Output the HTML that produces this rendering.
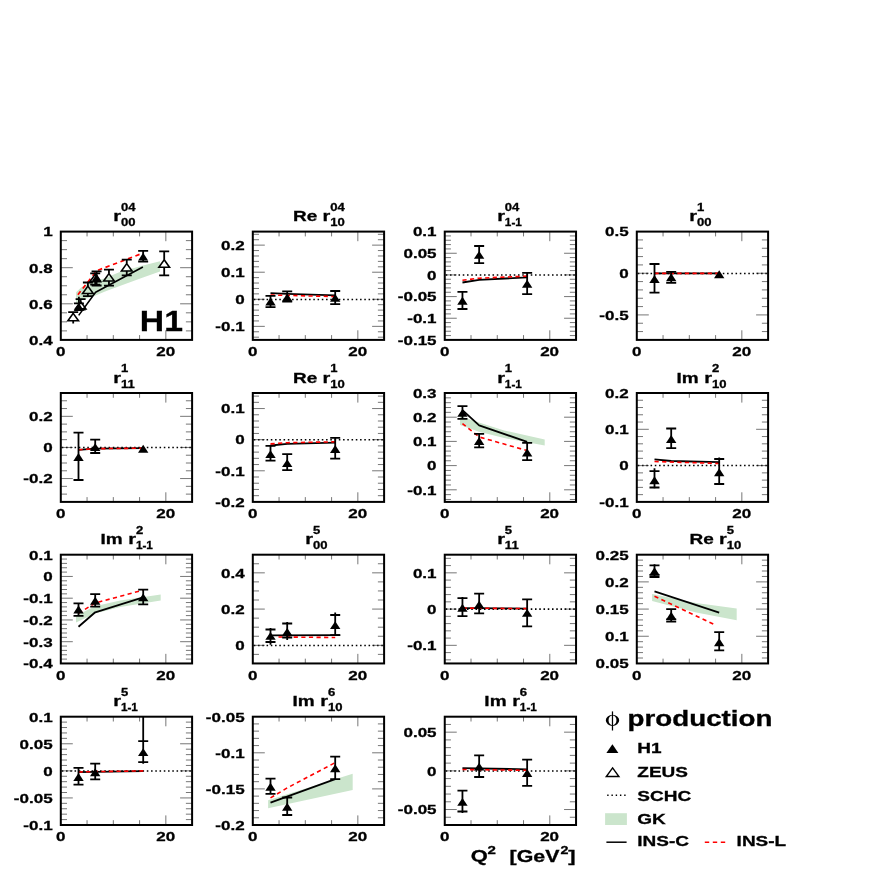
<!DOCTYPE html>
<html><head><meta charset="utf-8"><title>phi production</title>
<style>html,body{margin:0;padding:0;background:#fff}svg{display:block}text{font-family:"Liberation Sans",sans-serif;fill:#000;stroke:#000;stroke-width:0.3px}#w{will-change:transform;width:872px;height:872px}</style></head>
<body>
<div id="w">
<svg width="872" height="872" viewBox="0 0 872 872">
<g id="p0">
<clipPath id="c0"><rect x="60.8" y="231.6" width="131.3" height="108.3"/></clipPath>
<g clip-path="url(#c0)">
<path d="M76.1,292.3 L82,286.8 L90,282.6 L96,280.6 L103.6,278.7 L119.8,272 L143,265.6 L160,261.3 L160,271.6 L143,277.6 L119.8,286 L105,291.6 L95.6,295.6 L90,297.2 L82,300 L76.1,303.4 Z" fill="#cbe5cc"/>
<path d="M78.7,315.4 L95.6,292.3 L142.9,267" stroke="#000" stroke-width="1.6" fill="none" stroke-linejoin="round"/>
<path d="M77.9,294.8 L96.5,270.8 L143.2,253" stroke="#ff0000" stroke-width="1.7" fill="none" stroke-dasharray="4.4 3.6" stroke-linejoin="round"/>
<path d="M73.2,312.2 V313.4" stroke="#000" stroke-width="1.8" fill="none"/>
<path d="M68.2,312.2 H78.2" stroke="#000" stroke-width="1.8" fill="none"/>
<path d="M73.2,320.8 V323.4" stroke="#000" stroke-width="1.8" fill="none"/>
<path d="M73.2,313.4 L78.5,320.8 L67.9,320.8 Z" fill="none" stroke="#000" stroke-width="1.6" stroke-linejoin="miter"/>
<path d="M80.6,299.2 V301.5" stroke="#000" stroke-width="1.8" fill="none"/>
<path d="M75.6,299.2 H85.6" stroke="#000" stroke-width="1.8" fill="none"/>
<path d="M80.6,308.9 V309.6" stroke="#000" stroke-width="1.8" fill="none"/>
<path d="M75.6,309.6 H85.6" stroke="#000" stroke-width="1.8" fill="none"/>
<path d="M80.6,301.5 L85.9,308.9 L75.3,308.9 Z" fill="none" stroke="#000" stroke-width="1.6" stroke-linejoin="miter"/>
<path d="M87.9,282.5 V286.1" stroke="#000" stroke-width="1.8" fill="none"/>
<path d="M82.9,282.5 H92.9" stroke="#000" stroke-width="1.8" fill="none"/>
<path d="M87.9,293.5 V296.1" stroke="#000" stroke-width="1.8" fill="none"/>
<path d="M82.9,296.1 H92.9" stroke="#000" stroke-width="1.8" fill="none"/>
<path d="M87.9,286.1 L93.2,293.5 L82.6,293.5 Z" fill="none" stroke="#000" stroke-width="1.6" stroke-linejoin="miter"/>
<path d="M95.2,273.3 V274.3" stroke="#000" stroke-width="1.8" fill="none"/>
<path d="M90.2,273.3 H100.2" stroke="#000" stroke-width="1.8" fill="none"/>
<path d="M95.2,281.7 V284.6" stroke="#000" stroke-width="1.8" fill="none"/>
<path d="M90.2,284.6 H100.2" stroke="#000" stroke-width="1.8" fill="none"/>
<path d="M95.2,274.3 L100.5,281.7 L89.9,281.7 Z" fill="none" stroke="#000" stroke-width="1.6" stroke-linejoin="miter"/>
<path d="M108.95,269.7 V273.6" stroke="#000" stroke-width="1.8" fill="none"/>
<path d="M103.95,269.7 H113.95" stroke="#000" stroke-width="1.8" fill="none"/>
<path d="M108.95,281 V285.65" stroke="#000" stroke-width="1.8" fill="none"/>
<path d="M103.95,285.65 H113.95" stroke="#000" stroke-width="1.8" fill="none"/>
<path d="M108.95,273.6 L114.25,281 L103.65,281 Z" fill="none" stroke="#000" stroke-width="1.6" stroke-linejoin="miter"/>
<path d="M126.75,259.7 V263.6" stroke="#000" stroke-width="1.8" fill="none"/>
<path d="M121.75,259.7 H131.75" stroke="#000" stroke-width="1.8" fill="none"/>
<path d="M126.75,271 V275.45" stroke="#000" stroke-width="1.8" fill="none"/>
<path d="M121.75,275.45 H131.75" stroke="#000" stroke-width="1.8" fill="none"/>
<path d="M126.75,263.6 L132.05,271 L121.45,271 Z" fill="none" stroke="#000" stroke-width="1.6" stroke-linejoin="miter"/>
<path d="M164.2,251.4 V259.8" stroke="#000" stroke-width="1.8" fill="none"/>
<path d="M159.2,251.4 H169.2" stroke="#000" stroke-width="1.8" fill="none"/>
<path d="M164.2,267.2 V275.45" stroke="#000" stroke-width="1.8" fill="none"/>
<path d="M159.2,275.45 H169.2" stroke="#000" stroke-width="1.8" fill="none"/>
<path d="M164.2,259.8 L169.5,267.2 L158.9,267.2 Z" fill="none" stroke="#000" stroke-width="1.6" stroke-linejoin="miter"/>
<path d="M78.9,296.7 V311" stroke="#000" stroke-width="1.8" fill="none"/>
<path d="M73.9,303.3 H83.9" stroke="#000" stroke-width="1.8" fill="none"/>
<path d="M78.9,303.05 L84.1,310.95 L73.7,310.95 Z" fill="#000"/>
<path d="M96.6,271.3 V285.5" stroke="#000" stroke-width="1.8" fill="none"/>
<path d="M91.6,271.3 H101.6" stroke="#000" stroke-width="1.8" fill="none"/>
<path d="M91.6,285.5 H101.6" stroke="#000" stroke-width="1.8" fill="none"/>
<path d="M96.6,273.75 L101.8,281.65 L91.4,281.65 Z" fill="#000"/>
<path d="M143.15,250.9 V261.7" stroke="#000" stroke-width="1.8" fill="none"/>
<path d="M138.15,250.9 H148.15" stroke="#000" stroke-width="1.8" fill="none"/>
<path d="M138.15,261.7 H148.15" stroke="#000" stroke-width="1.8" fill="none"/>
<path d="M143.15,252.75 L148.1,260.45 L138.2,260.45 Z" fill="#000"/>
<text transform="translate(139.8,331.4) scale(1.11,1)" font-family="Liberation Sans, sans-serif" font-weight="bold" font-size="30.4px" text-anchor="start" stroke="#000" stroke-width="0.5">H1</text>
</g>
<path d="M60.8,330.88 h6.2 M192.1,330.88 h-6.2 M60.8,321.85 h6.2 M192.1,321.85 h-6.2 M60.8,312.82 h6.2 M192.1,312.82 h-6.2 M60.8,303.8 h12.0 M192.1,303.8 h-12.0 M60.8,294.77 h6.2 M192.1,294.77 h-6.2 M60.8,285.75 h6.2 M192.1,285.75 h-6.2 M60.8,276.72 h6.2 M192.1,276.72 h-6.2 M60.8,267.7 h12.0 M192.1,267.7 h-12.0 M60.8,258.67 h6.2 M192.1,258.67 h-6.2 M60.8,249.65 h6.2 M192.1,249.65 h-6.2 M60.8,240.62 h6.2 M192.1,240.62 h-6.2 M87.06,231.6 v4.8 M87.06,339.9 v-4.8 M113.32,231.6 v4.8 M113.32,339.9 v-4.8 M139.58,231.6 v4.8 M139.58,339.9 v-4.8 M165.84,231.6 v9.6 M165.84,339.9 v-9.6" stroke="#222" stroke-width="0.62" fill="none"/>
<rect x="60.8" y="231.6" width="131.3" height="108.3" fill="none" stroke="#000" stroke-width="2"/>
<text transform="translate(52.6,344.7) scale(1.27,1)" font-family="Liberation Sans, sans-serif" font-weight="bold" font-size="13.4px" text-anchor="end" >0.4</text>
<text transform="translate(52.6,308.6) scale(1.27,1)" font-family="Liberation Sans, sans-serif" font-weight="bold" font-size="13.4px" text-anchor="end" >0.6</text>
<text transform="translate(52.6,272.5) scale(1.27,1)" font-family="Liberation Sans, sans-serif" font-weight="bold" font-size="13.4px" text-anchor="end" >0.8</text>
<text transform="translate(52.6,236.4) scale(1.27,1)" font-family="Liberation Sans, sans-serif" font-weight="bold" font-size="13.4px" text-anchor="end" >1</text>
<text transform="translate(60.8,356.2) scale(1.27,1)" font-family="Liberation Sans, sans-serif" font-weight="bold" font-size="13.4px" text-anchor="middle" >0</text>
<text transform="translate(165.64,356.2) scale(1.27,1)" font-family="Liberation Sans, sans-serif" font-weight="bold" font-size="13.4px" text-anchor="middle" >20</text>
<text transform="translate(113.2,221.1) scale(1.2950000000000002,1)" font-family="Liberation Sans, sans-serif" font-weight="bold" font-size="15.4px" text-anchor="start" >r</text>
<text transform="translate(120.9,210.6) scale(1.21,1)" font-family="Liberation Sans, sans-serif" font-weight="bold" font-size="10.8px" text-anchor="start" >04</text>
<text transform="translate(120.9,226.3) scale(1.21,1)" font-family="Liberation Sans, sans-serif" font-weight="bold" font-size="10.8px" text-anchor="start" >00</text>
</g>
<g id="p1">
<clipPath id="c1"><rect x="252.8" y="231.6" width="131.3" height="108.3"/></clipPath>
<g clip-path="url(#c1)">
<path d="M253.8,299.4 H384.1" stroke="#000" stroke-width="1.55" stroke-dasharray="1.55 2.7" fill="none"/>
<path d="M270.5,293.1 L287.2,293.8 L335.2,295.4" stroke="#000" stroke-width="1.8" fill="none" stroke-linejoin="round"/>
<path d="M270.5,295 L335.2,296.6" stroke="#ff0000" stroke-width="1.6" fill="none" stroke-dasharray="4.2 3.4" stroke-linejoin="round"/>
<path d="M270.5,295.8 V307.2" stroke="#000" stroke-width="1.8" fill="none"/>
<path d="M265.5,295.8 H275.5" stroke="#000" stroke-width="1.8" fill="none"/>
<path d="M265.5,307.2 H275.5" stroke="#000" stroke-width="1.8" fill="none"/>
<path d="M270.5,297.55 L275.7,305.45 L265.3,305.45 Z" fill="#000"/>
<path d="M287.2,291.3 V301.6" stroke="#000" stroke-width="1.8" fill="none"/>
<path d="M282.2,291.3 H292.2" stroke="#000" stroke-width="1.8" fill="none"/>
<path d="M282.2,301.6 H292.2" stroke="#000" stroke-width="1.8" fill="none"/>
<path d="M287.2,293.45 L292.4,301.35 L282,301.35 Z" fill="#000"/>
<path d="M335.2,291 V304.2" stroke="#000" stroke-width="1.8" fill="none"/>
<path d="M330.2,291 H340.2" stroke="#000" stroke-width="1.8" fill="none"/>
<path d="M330.2,304.2 H340.2" stroke="#000" stroke-width="1.8" fill="none"/>
<path d="M335.2,293.95 L340.4,301.85 L330,301.85 Z" fill="#000"/>
</g>
<path d="M252.8,337.19 h6.2 M384.1,337.19 h-6.2 M252.8,331.78 h6.2 M384.1,331.78 h-6.2 M252.8,326.36 h12.0 M384.1,326.36 h-12.0 M252.8,320.95 h6.2 M384.1,320.95 h-6.2 M252.8,315.53 h6.2 M384.1,315.53 h-6.2 M252.8,310.12 h6.2 M384.1,310.12 h-6.2 M252.8,304.7 h6.2 M384.1,304.7 h-6.2 M252.8,299.29 h12.0 M384.1,299.29 h-12.0 M252.8,293.87 h6.2 M384.1,293.87 h-6.2 M252.8,288.46 h6.2 M384.1,288.46 h-6.2 M252.8,283.04 h6.2 M384.1,283.04 h-6.2 M252.8,277.63 h6.2 M384.1,277.63 h-6.2 M252.8,272.21 h12.0 M384.1,272.21 h-12.0 M252.8,266.8 h6.2 M384.1,266.8 h-6.2 M252.8,261.38 h6.2 M384.1,261.38 h-6.2 M252.8,255.97 h6.2 M384.1,255.97 h-6.2 M252.8,250.55 h6.2 M384.1,250.55 h-6.2 M252.8,245.14 h12.0 M384.1,245.14 h-12.0 M252.8,239.72 h6.2 M384.1,239.72 h-6.2 M252.8,234.31 h6.2 M384.1,234.31 h-6.2 M279.06,231.6 v4.8 M279.06,339.9 v-4.8 M305.32,231.6 v4.8 M305.32,339.9 v-4.8 M331.58,231.6 v4.8 M331.58,339.9 v-4.8 M357.84,231.6 v9.6 M357.84,339.9 v-9.6" stroke="#222" stroke-width="0.62" fill="none"/>
<rect x="252.8" y="231.6" width="131.3" height="108.3" fill="none" stroke="#000" stroke-width="2"/>
<text transform="translate(244.6,331.16) scale(1.27,1)" font-family="Liberation Sans, sans-serif" font-weight="bold" font-size="13.4px" text-anchor="end" >-0.1</text>
<text transform="translate(244.6,304.09) scale(1.27,1)" font-family="Liberation Sans, sans-serif" font-weight="bold" font-size="13.4px" text-anchor="end" >0</text>
<text transform="translate(244.6,277.01) scale(1.27,1)" font-family="Liberation Sans, sans-serif" font-weight="bold" font-size="13.4px" text-anchor="end" >0.1</text>
<text transform="translate(244.6,249.94) scale(1.27,1)" font-family="Liberation Sans, sans-serif" font-weight="bold" font-size="13.4px" text-anchor="end" >0.2</text>
<text transform="translate(252.8,356.2) scale(1.27,1)" font-family="Liberation Sans, sans-serif" font-weight="bold" font-size="13.4px" text-anchor="middle" >0</text>
<text transform="translate(357.64,356.2) scale(1.27,1)" font-family="Liberation Sans, sans-serif" font-weight="bold" font-size="13.4px" text-anchor="middle" >20</text>
<text transform="translate(293,221.1) scale(1.235,1)" font-family="Liberation Sans, sans-serif" font-weight="bold" font-size="15.4px" text-anchor="start" >Re</text>
<text transform="translate(322.5,221.1) scale(1.2950000000000002,1)" font-family="Liberation Sans, sans-serif" font-weight="bold" font-size="15.4px" text-anchor="start" >r</text>
<text transform="translate(330.2,210.6) scale(1.21,1)" font-family="Liberation Sans, sans-serif" font-weight="bold" font-size="10.8px" text-anchor="start" >04</text>
<text transform="translate(330.2,226.3) scale(1.21,1)" font-family="Liberation Sans, sans-serif" font-weight="bold" font-size="10.8px" text-anchor="start" >10</text>
</g>
<g id="p2">
<clipPath id="c2"><rect x="444.75" y="231.6" width="131.3" height="108.3"/></clipPath>
<g clip-path="url(#c2)">
<path d="M445.75,275 H576.05" stroke="#000" stroke-width="1.55" stroke-dasharray="1.55 2.7" fill="none"/>
<path d="M462.45,282.5 L479.15,279.8 L527.15,277.4" stroke="#000" stroke-width="1.8" fill="none" stroke-linejoin="round"/>
<path d="M462.45,280.3 L479.15,278.2 L527.15,276.1" stroke="#ff0000" stroke-width="1.6" fill="none" stroke-dasharray="4.2 3.4" stroke-linejoin="round"/>
<path d="M462.45,291.8 V309" stroke="#000" stroke-width="1.8" fill="none"/>
<path d="M457.45,291.8 H467.45" stroke="#000" stroke-width="1.8" fill="none"/>
<path d="M457.45,309 H467.45" stroke="#000" stroke-width="1.8" fill="none"/>
<path d="M462.45,296.75 L467.65,304.65 L457.25,304.65 Z" fill="#000"/>
<path d="M479.15,246 V263.2" stroke="#000" stroke-width="1.8" fill="none"/>
<path d="M474.15,246 H484.15" stroke="#000" stroke-width="1.8" fill="none"/>
<path d="M474.15,263.2 H484.15" stroke="#000" stroke-width="1.8" fill="none"/>
<path d="M479.15,250.95 L484.35,258.85 L473.95,258.85 Z" fill="#000"/>
<path d="M527.15,272.9 V294.2" stroke="#000" stroke-width="1.8" fill="none"/>
<path d="M522.15,272.9 H532.15" stroke="#000" stroke-width="1.8" fill="none"/>
<path d="M522.15,294.2 H532.15" stroke="#000" stroke-width="1.8" fill="none"/>
<path d="M527.15,279.85 L532.35,287.75 L521.95,287.75 Z" fill="#000"/>
</g>
<path d="M444.75,335.57 h6.2 M576.05,335.57 h-6.2 M444.75,331.24 h6.2 M576.05,331.24 h-6.2 M444.75,326.9 h6.2 M576.05,326.9 h-6.2 M444.75,322.57 h6.2 M576.05,322.57 h-6.2 M444.75,318.24 h12.0 M576.05,318.24 h-12.0 M444.75,313.91 h6.2 M576.05,313.91 h-6.2 M444.75,309.58 h6.2 M576.05,309.58 h-6.2 M444.75,305.24 h6.2 M576.05,305.24 h-6.2 M444.75,300.91 h6.2 M576.05,300.91 h-6.2 M444.75,296.58 h12.0 M576.05,296.58 h-12.0 M444.75,292.25 h6.2 M576.05,292.25 h-6.2 M444.75,287.92 h6.2 M576.05,287.92 h-6.2 M444.75,283.58 h6.2 M576.05,283.58 h-6.2 M444.75,279.25 h6.2 M576.05,279.25 h-6.2 M444.75,274.92 h12.0 M576.05,274.92 h-12.0 M444.75,270.59 h6.2 M576.05,270.59 h-6.2 M444.75,266.26 h6.2 M576.05,266.26 h-6.2 M444.75,261.92 h6.2 M576.05,261.92 h-6.2 M444.75,257.59 h6.2 M576.05,257.59 h-6.2 M444.75,253.26 h12.0 M576.05,253.26 h-12.0 M444.75,248.93 h6.2 M576.05,248.93 h-6.2 M444.75,244.6 h6.2 M576.05,244.6 h-6.2 M444.75,240.26 h6.2 M576.05,240.26 h-6.2 M444.75,235.93 h6.2 M576.05,235.93 h-6.2 M471.01,231.6 v4.8 M471.01,339.9 v-4.8 M497.27,231.6 v4.8 M497.27,339.9 v-4.8 M523.53,231.6 v4.8 M523.53,339.9 v-4.8 M549.79,231.6 v9.6 M549.79,339.9 v-9.6" stroke="#222" stroke-width="0.62" fill="none"/>
<rect x="444.75" y="231.6" width="131.3" height="108.3" fill="none" stroke="#000" stroke-width="2"/>
<text transform="translate(436.55,344.7) scale(1.27,1)" font-family="Liberation Sans, sans-serif" font-weight="bold" font-size="13.4px" text-anchor="end" >-0.15</text>
<text transform="translate(436.55,323.04) scale(1.27,1)" font-family="Liberation Sans, sans-serif" font-weight="bold" font-size="13.4px" text-anchor="end" >-0.1</text>
<text transform="translate(436.55,301.38) scale(1.27,1)" font-family="Liberation Sans, sans-serif" font-weight="bold" font-size="13.4px" text-anchor="end" >-0.05</text>
<text transform="translate(436.55,279.72) scale(1.27,1)" font-family="Liberation Sans, sans-serif" font-weight="bold" font-size="13.4px" text-anchor="end" >0</text>
<text transform="translate(436.55,258.06) scale(1.27,1)" font-family="Liberation Sans, sans-serif" font-weight="bold" font-size="13.4px" text-anchor="end" >0.05</text>
<text transform="translate(436.55,236.4) scale(1.27,1)" font-family="Liberation Sans, sans-serif" font-weight="bold" font-size="13.4px" text-anchor="end" >0.1</text>
<text transform="translate(444.75,356.2) scale(1.27,1)" font-family="Liberation Sans, sans-serif" font-weight="bold" font-size="13.4px" text-anchor="middle" >0</text>
<text transform="translate(549.59,356.2) scale(1.27,1)" font-family="Liberation Sans, sans-serif" font-weight="bold" font-size="13.4px" text-anchor="middle" >20</text>
<text transform="translate(497.15,221.1) scale(1.2950000000000002,1)" font-family="Liberation Sans, sans-serif" font-weight="bold" font-size="15.4px" text-anchor="start" >r</text>
<text transform="translate(504.85,210.6) scale(1.21,1)" font-family="Liberation Sans, sans-serif" font-weight="bold" font-size="10.8px" text-anchor="start" >04</text>
<text transform="translate(504.85,226.3) scale(1.09,1)" font-family="Liberation Sans, sans-serif" font-weight="bold" font-size="10.8px" text-anchor="start" >1-1</text>
</g>
<g id="p3">
<clipPath id="c3"><rect x="636.8" y="231.6" width="131.3" height="108.3"/></clipPath>
<g clip-path="url(#c3)">
<path d="M637.8,273.4 H768.1" stroke="#000" stroke-width="1.55" stroke-dasharray="1.55 2.7" fill="none"/>
<path d="M654.5,273.4 L719.2,273.4" stroke="#000" stroke-width="1.8" fill="none" stroke-linejoin="round"/>
<path d="M654.5,273.4 L719.2,273.4" stroke="#ff0000" stroke-width="1.6" fill="none" stroke-dasharray="4.2 3.4" stroke-linejoin="round"/>
<path d="M654.5,264 V292.6" stroke="#000" stroke-width="1.8" fill="none"/>
<path d="M649.5,264 H659.5" stroke="#000" stroke-width="1.8" fill="none"/>
<path d="M649.5,292.6 H659.5" stroke="#000" stroke-width="1.8" fill="none"/>
<path d="M654.5,275.05 L659.7,282.95 L649.3,282.95 Z" fill="#000"/>
<path d="M671.2,271.8 V282.8" stroke="#000" stroke-width="1.8" fill="none"/>
<path d="M666.2,271.8 H676.2" stroke="#000" stroke-width="1.8" fill="none"/>
<path d="M666.2,282.8 H676.2" stroke="#000" stroke-width="1.8" fill="none"/>
<path d="M671.2,273.25 L676.4,281.15 L666,281.15 Z" fill="#000"/>
<path d="M719.2,270.25 L724.4,278.15 L714,278.15 Z" fill="#000"/>
</g>
<path d="M636.8,331.57 h6.2 M768.1,331.57 h-6.2 M636.8,323.24 h6.2 M768.1,323.24 h-6.2 M636.8,314.91 h12.0 M768.1,314.91 h-12.0 M636.8,306.58 h6.2 M768.1,306.58 h-6.2 M636.8,298.25 h6.2 M768.1,298.25 h-6.2 M636.8,289.92 h6.2 M768.1,289.92 h-6.2 M636.8,281.58 h6.2 M768.1,281.58 h-6.2 M636.8,273.25 h12.0 M768.1,273.25 h-12.0 M636.8,264.92 h6.2 M768.1,264.92 h-6.2 M636.8,256.59 h6.2 M768.1,256.59 h-6.2 M636.8,248.26 h6.2 M768.1,248.26 h-6.2 M636.8,239.93 h6.2 M768.1,239.93 h-6.2 M663.06,231.6 v4.8 M663.06,339.9 v-4.8 M689.32,231.6 v4.8 M689.32,339.9 v-4.8 M715.58,231.6 v4.8 M715.58,339.9 v-4.8 M741.84,231.6 v9.6 M741.84,339.9 v-9.6" stroke="#222" stroke-width="0.62" fill="none"/>
<rect x="636.8" y="231.6" width="131.3" height="108.3" fill="none" stroke="#000" stroke-width="2"/>
<text transform="translate(628.6,319.71) scale(1.27,1)" font-family="Liberation Sans, sans-serif" font-weight="bold" font-size="13.4px" text-anchor="end" >-0.5</text>
<text transform="translate(628.6,278.05) scale(1.27,1)" font-family="Liberation Sans, sans-serif" font-weight="bold" font-size="13.4px" text-anchor="end" >0</text>
<text transform="translate(628.6,236.4) scale(1.27,1)" font-family="Liberation Sans, sans-serif" font-weight="bold" font-size="13.4px" text-anchor="end" >0.5</text>
<text transform="translate(636.8,356.2) scale(1.27,1)" font-family="Liberation Sans, sans-serif" font-weight="bold" font-size="13.4px" text-anchor="middle" >0</text>
<text transform="translate(741.64,356.2) scale(1.27,1)" font-family="Liberation Sans, sans-serif" font-weight="bold" font-size="13.4px" text-anchor="middle" >20</text>
<text transform="translate(689.2,221.1) scale(1.2950000000000002,1)" font-family="Liberation Sans, sans-serif" font-weight="bold" font-size="15.4px" text-anchor="start" >r</text>
<text transform="translate(696.9,210.6) scale(1.21,1)" font-family="Liberation Sans, sans-serif" font-weight="bold" font-size="10.8px" text-anchor="start" >1</text>
<text transform="translate(696.9,226.3) scale(1.21,1)" font-family="Liberation Sans, sans-serif" font-weight="bold" font-size="10.8px" text-anchor="start" >00</text>
</g>
<g id="p4">
<clipPath id="c4"><rect x="60.8" y="393" width="131.3" height="108.9"/></clipPath>
<g clip-path="url(#c4)">
<path d="M61.8,447.4 H192.1" stroke="#000" stroke-width="1.55" stroke-dasharray="1.55 2.7" fill="none"/>
<path d="M78.5,449.8 L95.2,448.7 L143.2,448.2" stroke="#000" stroke-width="1.8" fill="none" stroke-linejoin="round"/>
<path d="M78.5,449.8 L95.2,448.7 L143.2,448.2" stroke="#ff0000" stroke-width="1.6" fill="none" stroke-dasharray="4.2 3.4" stroke-linejoin="round"/>
<path d="M78.5,432.6 V480" stroke="#000" stroke-width="1.8" fill="none"/>
<path d="M73.5,432.6 H83.5" stroke="#000" stroke-width="1.8" fill="none"/>
<path d="M73.5,480 H83.5" stroke="#000" stroke-width="1.8" fill="none"/>
<path d="M78.5,453.05 L83.7,460.95 L73.3,460.95 Z" fill="#000"/>
<path d="M95.2,439.7 V453" stroke="#000" stroke-width="1.8" fill="none"/>
<path d="M90.2,439.7 H100.2" stroke="#000" stroke-width="1.8" fill="none"/>
<path d="M90.2,453 H100.2" stroke="#000" stroke-width="1.8" fill="none"/>
<path d="M95.2,443.15 L100.4,451.05 L90,451.05 Z" fill="#000"/>
<path d="M143.2,444.75 L148.4,452.65 L138,452.65 Z" fill="#000"/>
</g>
<path d="M60.8,494.12 h6.2 M192.1,494.12 h-6.2 M60.8,486.34 h6.2 M192.1,486.34 h-6.2 M60.8,478.56 h12.0 M192.1,478.56 h-12.0 M60.8,470.79 h6.2 M192.1,470.79 h-6.2 M60.8,463.01 h6.2 M192.1,463.01 h-6.2 M60.8,455.23 h6.2 M192.1,455.23 h-6.2 M60.8,447.45 h12.0 M192.1,447.45 h-12.0 M60.8,439.67 h6.2 M192.1,439.67 h-6.2 M60.8,431.89 h6.2 M192.1,431.89 h-6.2 M60.8,424.11 h6.2 M192.1,424.11 h-6.2 M60.8,416.34 h12.0 M192.1,416.34 h-12.0 M60.8,408.56 h6.2 M192.1,408.56 h-6.2 M60.8,400.78 h6.2 M192.1,400.78 h-6.2 M87.06,393 v4.8 M87.06,501.9 v-4.8 M113.32,393 v4.8 M113.32,501.9 v-4.8 M139.58,393 v4.8 M139.58,501.9 v-4.8 M165.84,393 v9.6 M165.84,501.9 v-9.6" stroke="#222" stroke-width="0.62" fill="none"/>
<rect x="60.8" y="393" width="131.3" height="108.9" fill="none" stroke="#000" stroke-width="2"/>
<text transform="translate(52.6,483.36) scale(1.27,1)" font-family="Liberation Sans, sans-serif" font-weight="bold" font-size="13.4px" text-anchor="end" >-0.2</text>
<text transform="translate(52.6,452.25) scale(1.27,1)" font-family="Liberation Sans, sans-serif" font-weight="bold" font-size="13.4px" text-anchor="end" >0</text>
<text transform="translate(52.6,421.14) scale(1.27,1)" font-family="Liberation Sans, sans-serif" font-weight="bold" font-size="13.4px" text-anchor="end" >0.2</text>
<text transform="translate(60.8,518.2) scale(1.27,1)" font-family="Liberation Sans, sans-serif" font-weight="bold" font-size="13.4px" text-anchor="middle" >0</text>
<text transform="translate(165.64,518.2) scale(1.27,1)" font-family="Liberation Sans, sans-serif" font-weight="bold" font-size="13.4px" text-anchor="middle" >20</text>
<text transform="translate(113.2,382.5) scale(1.2950000000000002,1)" font-family="Liberation Sans, sans-serif" font-weight="bold" font-size="15.4px" text-anchor="start" >r</text>
<text transform="translate(120.9,372) scale(1.21,1)" font-family="Liberation Sans, sans-serif" font-weight="bold" font-size="10.8px" text-anchor="start" >1</text>
<text transform="translate(120.9,387.7) scale(1.21,1)" font-family="Liberation Sans, sans-serif" font-weight="bold" font-size="10.8px" text-anchor="start" >11</text>
</g>
<g id="p5">
<clipPath id="c5"><rect x="252.8" y="393" width="131.3" height="108.9"/></clipPath>
<g clip-path="url(#c5)">
<path d="M253.8,439.7 H384.1" stroke="#000" stroke-width="1.55" stroke-dasharray="1.55 2.7" fill="none"/>
<path d="M270.5,445.5 L287.2,443.9 L335.2,442.6" stroke="#000" stroke-width="1.8" fill="none" stroke-linejoin="round"/>
<path d="M270.5,443.9 L287.2,442.7 L335.2,441.8" stroke="#ff0000" stroke-width="1.6" fill="none" stroke-dasharray="4.2 3.4" stroke-linejoin="round"/>
<path d="M270.5,445.8 V460.6" stroke="#000" stroke-width="1.8" fill="none"/>
<path d="M265.5,445.8 H275.5" stroke="#000" stroke-width="1.8" fill="none"/>
<path d="M265.5,460.6 H275.5" stroke="#000" stroke-width="1.8" fill="none"/>
<path d="M270.5,450.15 L275.7,458.05 L265.3,458.05 Z" fill="#000"/>
<path d="M287.2,454.1 V470.2" stroke="#000" stroke-width="1.8" fill="none"/>
<path d="M282.2,454.1 H292.2" stroke="#000" stroke-width="1.8" fill="none"/>
<path d="M282.2,470.2 H292.2" stroke="#000" stroke-width="1.8" fill="none"/>
<path d="M287.2,459.15 L292.4,467.05 L282,467.05 Z" fill="#000"/>
<path d="M335.2,437.8 V458.6" stroke="#000" stroke-width="1.8" fill="none"/>
<path d="M330.2,437.8 H340.2" stroke="#000" stroke-width="1.8" fill="none"/>
<path d="M330.2,458.6 H340.2" stroke="#000" stroke-width="1.8" fill="none"/>
<path d="M335.2,445.05 L340.4,452.95 L330,452.95 Z" fill="#000"/>
</g>
<path d="M252.8,495.68 h6.2 M384.1,495.68 h-6.2 M252.8,489.45 h6.2 M384.1,489.45 h-6.2 M252.8,483.23 h6.2 M384.1,483.23 h-6.2 M252.8,477.01 h6.2 M384.1,477.01 h-6.2 M252.8,470.79 h12.0 M384.1,470.79 h-12.0 M252.8,464.56 h6.2 M384.1,464.56 h-6.2 M252.8,458.34 h6.2 M384.1,458.34 h-6.2 M252.8,452.12 h6.2 M384.1,452.12 h-6.2 M252.8,445.89 h6.2 M384.1,445.89 h-6.2 M252.8,439.67 h12.0 M384.1,439.67 h-12.0 M252.8,433.45 h6.2 M384.1,433.45 h-6.2 M252.8,427.23 h6.2 M384.1,427.23 h-6.2 M252.8,421 h6.2 M384.1,421 h-6.2 M252.8,414.78 h6.2 M384.1,414.78 h-6.2 M252.8,408.56 h12.0 M384.1,408.56 h-12.0 M252.8,402.33 h6.2 M384.1,402.33 h-6.2 M252.8,396.11 h6.2 M384.1,396.11 h-6.2 M279.06,393 v4.8 M279.06,501.9 v-4.8 M305.32,393 v4.8 M305.32,501.9 v-4.8 M331.58,393 v4.8 M331.58,501.9 v-4.8 M357.84,393 v9.6 M357.84,501.9 v-9.6" stroke="#222" stroke-width="0.62" fill="none"/>
<rect x="252.8" y="393" width="131.3" height="108.9" fill="none" stroke="#000" stroke-width="2"/>
<text transform="translate(244.6,506.7) scale(1.27,1)" font-family="Liberation Sans, sans-serif" font-weight="bold" font-size="13.4px" text-anchor="end" >-0.2</text>
<text transform="translate(244.6,475.59) scale(1.27,1)" font-family="Liberation Sans, sans-serif" font-weight="bold" font-size="13.4px" text-anchor="end" >-0.1</text>
<text transform="translate(244.6,444.47) scale(1.27,1)" font-family="Liberation Sans, sans-serif" font-weight="bold" font-size="13.4px" text-anchor="end" >0</text>
<text transform="translate(244.6,413.36) scale(1.27,1)" font-family="Liberation Sans, sans-serif" font-weight="bold" font-size="13.4px" text-anchor="end" >0.1</text>
<text transform="translate(252.8,518.2) scale(1.27,1)" font-family="Liberation Sans, sans-serif" font-weight="bold" font-size="13.4px" text-anchor="middle" >0</text>
<text transform="translate(357.64,518.2) scale(1.27,1)" font-family="Liberation Sans, sans-serif" font-weight="bold" font-size="13.4px" text-anchor="middle" >20</text>
<text transform="translate(293,382.5) scale(1.235,1)" font-family="Liberation Sans, sans-serif" font-weight="bold" font-size="15.4px" text-anchor="start" >Re</text>
<text transform="translate(322.5,382.5) scale(1.2950000000000002,1)" font-family="Liberation Sans, sans-serif" font-weight="bold" font-size="15.4px" text-anchor="start" >r</text>
<text transform="translate(330.2,372) scale(1.21,1)" font-family="Liberation Sans, sans-serif" font-weight="bold" font-size="10.8px" text-anchor="start" >1</text>
<text transform="translate(330.2,387.7) scale(1.21,1)" font-family="Liberation Sans, sans-serif" font-weight="bold" font-size="10.8px" text-anchor="start" >10</text>
</g>
<g id="p6">
<clipPath id="c6"><rect x="444.75" y="393" width="131.3" height="108.9"/></clipPath>
<g clip-path="url(#c6)">
<path d="M460,416.1 L479,422.5 L504.2,430.5 L544.7,439.4 L544.7,445.5 L504.2,438.1 L479,431.7 L460,424.9 Z" fill="#cbe5cc"/>
<path d="M462.45,410.2 L479.15,425.4 L527.15,441.8" stroke="#000" stroke-width="1.8" fill="none" stroke-linejoin="round"/>
<path d="M462.45,423.6 L479.15,437 L527.15,450.6" stroke="#ff0000" stroke-width="1.6" fill="none" stroke-dasharray="4.2 3.4" stroke-linejoin="round"/>
<path d="M462.45,406.1 V418.8" stroke="#000" stroke-width="1.8" fill="none"/>
<path d="M457.45,406.1 H467.45" stroke="#000" stroke-width="1.8" fill="none"/>
<path d="M457.45,418.8 H467.45" stroke="#000" stroke-width="1.8" fill="none"/>
<path d="M462.45,408.95 L467.65,416.85 L457.25,416.85 Z" fill="#000"/>
<path d="M479.15,433.8 V447.4" stroke="#000" stroke-width="1.8" fill="none"/>
<path d="M474.15,433.8 H484.15" stroke="#000" stroke-width="1.8" fill="none"/>
<path d="M474.15,447.4 H484.15" stroke="#000" stroke-width="1.8" fill="none"/>
<path d="M479.15,437.05 L484.35,444.95 L473.95,444.95 Z" fill="#000"/>
<path d="M527.15,442.9 V460.2" stroke="#000" stroke-width="1.8" fill="none"/>
<path d="M522.15,442.9 H532.15" stroke="#000" stroke-width="1.8" fill="none"/>
<path d="M522.15,460.2 H532.15" stroke="#000" stroke-width="1.8" fill="none"/>
<path d="M527.15,448.55 L532.35,456.45 L521.95,456.45 Z" fill="#000"/>
</g>
<path d="M444.75,499.48 h6.2 M576.05,499.48 h-6.2 M444.75,494.64 h6.2 M576.05,494.64 h-6.2 M444.75,489.8 h12.0 M576.05,489.8 h-12.0 M444.75,484.96 h6.2 M576.05,484.96 h-6.2 M444.75,480.12 h6.2 M576.05,480.12 h-6.2 M444.75,475.28 h6.2 M576.05,475.28 h-6.2 M444.75,470.44 h6.2 M576.05,470.44 h-6.2 M444.75,465.6 h12.0 M576.05,465.6 h-12.0 M444.75,460.76 h6.2 M576.05,460.76 h-6.2 M444.75,455.92 h6.2 M576.05,455.92 h-6.2 M444.75,451.08 h6.2 M576.05,451.08 h-6.2 M444.75,446.24 h6.2 M576.05,446.24 h-6.2 M444.75,441.4 h12.0 M576.05,441.4 h-12.0 M444.75,436.56 h6.2 M576.05,436.56 h-6.2 M444.75,431.72 h6.2 M576.05,431.72 h-6.2 M444.75,426.88 h6.2 M576.05,426.88 h-6.2 M444.75,422.04 h6.2 M576.05,422.04 h-6.2 M444.75,417.2 h12.0 M576.05,417.2 h-12.0 M444.75,412.36 h6.2 M576.05,412.36 h-6.2 M444.75,407.52 h6.2 M576.05,407.52 h-6.2 M444.75,402.68 h6.2 M576.05,402.68 h-6.2 M444.75,397.84 h6.2 M576.05,397.84 h-6.2 M471.01,393 v4.8 M471.01,501.9 v-4.8 M497.27,393 v4.8 M497.27,501.9 v-4.8 M523.53,393 v4.8 M523.53,501.9 v-4.8 M549.79,393 v9.6 M549.79,501.9 v-9.6" stroke="#222" stroke-width="0.62" fill="none"/>
<rect x="444.75" y="393" width="131.3" height="108.9" fill="none" stroke="#000" stroke-width="2"/>
<text transform="translate(436.55,494.6) scale(1.27,1)" font-family="Liberation Sans, sans-serif" font-weight="bold" font-size="13.4px" text-anchor="end" >-0.1</text>
<text transform="translate(436.55,470.4) scale(1.27,1)" font-family="Liberation Sans, sans-serif" font-weight="bold" font-size="13.4px" text-anchor="end" >0</text>
<text transform="translate(436.55,446.2) scale(1.27,1)" font-family="Liberation Sans, sans-serif" font-weight="bold" font-size="13.4px" text-anchor="end" >0.1</text>
<text transform="translate(436.55,422) scale(1.27,1)" font-family="Liberation Sans, sans-serif" font-weight="bold" font-size="13.4px" text-anchor="end" >0.2</text>
<text transform="translate(436.55,397.8) scale(1.27,1)" font-family="Liberation Sans, sans-serif" font-weight="bold" font-size="13.4px" text-anchor="end" >0.3</text>
<text transform="translate(444.75,518.2) scale(1.27,1)" font-family="Liberation Sans, sans-serif" font-weight="bold" font-size="13.4px" text-anchor="middle" >0</text>
<text transform="translate(549.59,518.2) scale(1.27,1)" font-family="Liberation Sans, sans-serif" font-weight="bold" font-size="13.4px" text-anchor="middle" >20</text>
<text transform="translate(497.15,382.5) scale(1.2950000000000002,1)" font-family="Liberation Sans, sans-serif" font-weight="bold" font-size="15.4px" text-anchor="start" >r</text>
<text transform="translate(504.85,372) scale(1.21,1)" font-family="Liberation Sans, sans-serif" font-weight="bold" font-size="10.8px" text-anchor="start" >1</text>
<text transform="translate(504.85,387.7) scale(1.09,1)" font-family="Liberation Sans, sans-serif" font-weight="bold" font-size="10.8px" text-anchor="start" >1-1</text>
</g>
<g id="p7">
<clipPath id="c7"><rect x="636.8" y="393" width="131.3" height="108.9"/></clipPath>
<g clip-path="url(#c7)">
<path d="M637.8,465.5 H768.1" stroke="#000" stroke-width="1.55" stroke-dasharray="1.55 2.7" fill="none"/>
<path d="M654.5,459.4 L671.2,461 L719.2,462.2" stroke="#000" stroke-width="1.8" fill="none" stroke-linejoin="round"/>
<path d="M654.5,461.5 L719.2,463.5" stroke="#ff0000" stroke-width="1.6" fill="none" stroke-dasharray="4.2 3.4" stroke-linejoin="round"/>
<path d="M654.5,468.2 V488.3" stroke="#000" stroke-width="1.8" fill="none"/>
<path d="M649.5,471.2 H659.5" stroke="#000" stroke-width="1.8" fill="none"/>
<path d="M649.5,487.5 H659.5" stroke="#000" stroke-width="1.8" fill="none"/>
<path d="M654.5,476.35 L659.7,484.25 L649.3,484.25 Z" fill="#000"/>
<path d="M671.2,428.5 V448.2" stroke="#000" stroke-width="1.8" fill="none"/>
<path d="M666.2,428.5 H676.2" stroke="#000" stroke-width="1.8" fill="none"/>
<path d="M666.2,448.2 H676.2" stroke="#000" stroke-width="1.8" fill="none"/>
<path d="M671.2,435.05 L676.4,442.95 L666,442.95 Z" fill="#000"/>
<path d="M719.2,457.6 V484" stroke="#000" stroke-width="1.8" fill="none"/>
<path d="M714.2,459 H724.2" stroke="#000" stroke-width="1.8" fill="none"/>
<path d="M714.2,484 H724.2" stroke="#000" stroke-width="1.8" fill="none"/>
<path d="M719.2,468.35 L724.4,476.25 L714,476.25 Z" fill="#000"/>
</g>
<path d="M636.8,494.64 h6.2 M768.1,494.64 h-6.2 M636.8,487.38 h6.2 M768.1,487.38 h-6.2 M636.8,480.12 h6.2 M768.1,480.12 h-6.2 M636.8,472.86 h6.2 M768.1,472.86 h-6.2 M636.8,465.6 h12.0 M768.1,465.6 h-12.0 M636.8,458.34 h6.2 M768.1,458.34 h-6.2 M636.8,451.08 h6.2 M768.1,451.08 h-6.2 M636.8,443.82 h6.2 M768.1,443.82 h-6.2 M636.8,436.56 h6.2 M768.1,436.56 h-6.2 M636.8,429.3 h12.0 M768.1,429.3 h-12.0 M636.8,422.04 h6.2 M768.1,422.04 h-6.2 M636.8,414.78 h6.2 M768.1,414.78 h-6.2 M636.8,407.52 h6.2 M768.1,407.52 h-6.2 M636.8,400.26 h6.2 M768.1,400.26 h-6.2 M663.06,393 v4.8 M663.06,501.9 v-4.8 M689.32,393 v4.8 M689.32,501.9 v-4.8 M715.58,393 v4.8 M715.58,501.9 v-4.8 M741.84,393 v9.6 M741.84,501.9 v-9.6" stroke="#222" stroke-width="0.62" fill="none"/>
<rect x="636.8" y="393" width="131.3" height="108.9" fill="none" stroke="#000" stroke-width="2"/>
<text transform="translate(628.6,506.7) scale(1.27,1)" font-family="Liberation Sans, sans-serif" font-weight="bold" font-size="13.4px" text-anchor="end" >-0.1</text>
<text transform="translate(628.6,470.4) scale(1.27,1)" font-family="Liberation Sans, sans-serif" font-weight="bold" font-size="13.4px" text-anchor="end" >0</text>
<text transform="translate(628.6,434.1) scale(1.27,1)" font-family="Liberation Sans, sans-serif" font-weight="bold" font-size="13.4px" text-anchor="end" >0.1</text>
<text transform="translate(628.6,397.8) scale(1.27,1)" font-family="Liberation Sans, sans-serif" font-weight="bold" font-size="13.4px" text-anchor="end" >0.2</text>
<text transform="translate(636.8,518.2) scale(1.27,1)" font-family="Liberation Sans, sans-serif" font-weight="bold" font-size="13.4px" text-anchor="middle" >0</text>
<text transform="translate(741.64,518.2) scale(1.27,1)" font-family="Liberation Sans, sans-serif" font-weight="bold" font-size="13.4px" text-anchor="middle" >20</text>
<text transform="translate(676.4,382.5) scale(1.235,1)" font-family="Liberation Sans, sans-serif" font-weight="bold" font-size="15.4px" text-anchor="start" >Im</text>
<text transform="translate(704.2,382.5) scale(1.2950000000000002,1)" font-family="Liberation Sans, sans-serif" font-weight="bold" font-size="15.4px" text-anchor="start" >r</text>
<text transform="translate(711.9,372) scale(1.21,1)" font-family="Liberation Sans, sans-serif" font-weight="bold" font-size="10.8px" text-anchor="start" >2</text>
<text transform="translate(711.9,387.7) scale(1.21,1)" font-family="Liberation Sans, sans-serif" font-weight="bold" font-size="10.8px" text-anchor="start" >10</text>
</g>
<g id="p8">
<clipPath id="c8"><rect x="60.8" y="554.7" width="131.3" height="108.75"/></clipPath>
<g clip-path="url(#c8)">
<path d="M76,615.8 L95,606.2 L120.2,600.6 L160.7,594.5 L160.7,600.6 L120.2,607 L95,613.4 L76,622.6 Z" fill="#cbe5cc"/>
<path d="M78.5,626.7 L95.2,612.3 L143.2,597.4" stroke="#000" stroke-width="1.8" fill="none" stroke-linejoin="round"/>
<path d="M78.5,613.4 L95.2,603 L143.2,590.1" stroke="#ff0000" stroke-width="1.6" fill="none" stroke-dasharray="4.2 3.4" stroke-linejoin="round"/>
<path d="M78.5,603.3 V615.9" stroke="#000" stroke-width="1.8" fill="none"/>
<path d="M73.5,603.3 H83.5" stroke="#000" stroke-width="1.8" fill="none"/>
<path d="M73.5,615.9 H83.5" stroke="#000" stroke-width="1.8" fill="none"/>
<path d="M78.5,605.55 L83.7,613.45 L73.3,613.45 Z" fill="#000"/>
<path d="M95.2,594.1 V606.6" stroke="#000" stroke-width="1.8" fill="none"/>
<path d="M90.2,594.1 H100.2" stroke="#000" stroke-width="1.8" fill="none"/>
<path d="M90.2,606.6 H100.2" stroke="#000" stroke-width="1.8" fill="none"/>
<path d="M95.2,596.85 L100.4,604.75 L90,604.75 Z" fill="#000"/>
<path d="M143.2,589.7 V604.3" stroke="#000" stroke-width="1.8" fill="none"/>
<path d="M138.2,589.7 H148.2" stroke="#000" stroke-width="1.8" fill="none"/>
<path d="M138.2,604.3 H148.2" stroke="#000" stroke-width="1.8" fill="none"/>
<path d="M143.2,593.45 L148.4,601.35 L138,601.35 Z" fill="#000"/>
</g>
<path d="M60.8,659.1 h6.2 M192.1,659.1 h-6.2 M60.8,654.75 h6.2 M192.1,654.75 h-6.2 M60.8,650.4 h6.2 M192.1,650.4 h-6.2 M60.8,646.05 h6.2 M192.1,646.05 h-6.2 M60.8,641.7 h12.0 M192.1,641.7 h-12.0 M60.8,637.35 h6.2 M192.1,637.35 h-6.2 M60.8,633 h6.2 M192.1,633 h-6.2 M60.8,628.65 h6.2 M192.1,628.65 h-6.2 M60.8,624.3 h6.2 M192.1,624.3 h-6.2 M60.8,619.95 h12.0 M192.1,619.95 h-12.0 M60.8,615.6 h6.2 M192.1,615.6 h-6.2 M60.8,611.25 h6.2 M192.1,611.25 h-6.2 M60.8,606.9 h6.2 M192.1,606.9 h-6.2 M60.8,602.55 h6.2 M192.1,602.55 h-6.2 M60.8,598.2 h12.0 M192.1,598.2 h-12.0 M60.8,593.85 h6.2 M192.1,593.85 h-6.2 M60.8,589.5 h6.2 M192.1,589.5 h-6.2 M60.8,585.15 h6.2 M192.1,585.15 h-6.2 M60.8,580.8 h6.2 M192.1,580.8 h-6.2 M60.8,576.45 h12.0 M192.1,576.45 h-12.0 M60.8,572.1 h6.2 M192.1,572.1 h-6.2 M60.8,567.75 h6.2 M192.1,567.75 h-6.2 M60.8,563.4 h6.2 M192.1,563.4 h-6.2 M60.8,559.05 h6.2 M192.1,559.05 h-6.2 M87.06,554.7 v4.8 M87.06,663.45 v-4.8 M113.32,554.7 v4.8 M113.32,663.45 v-4.8 M139.58,554.7 v4.8 M139.58,663.45 v-4.8 M165.84,554.7 v9.6 M165.84,663.45 v-9.6" stroke="#222" stroke-width="0.62" fill="none"/>
<rect x="60.8" y="554.7" width="131.3" height="108.75" fill="none" stroke="#000" stroke-width="2"/>
<text transform="translate(52.6,668.25) scale(1.27,1)" font-family="Liberation Sans, sans-serif" font-weight="bold" font-size="13.4px" text-anchor="end" >-0.4</text>
<text transform="translate(52.6,646.5) scale(1.27,1)" font-family="Liberation Sans, sans-serif" font-weight="bold" font-size="13.4px" text-anchor="end" >-0.3</text>
<text transform="translate(52.6,624.75) scale(1.27,1)" font-family="Liberation Sans, sans-serif" font-weight="bold" font-size="13.4px" text-anchor="end" >-0.2</text>
<text transform="translate(52.6,603) scale(1.27,1)" font-family="Liberation Sans, sans-serif" font-weight="bold" font-size="13.4px" text-anchor="end" >-0.1</text>
<text transform="translate(52.6,581.25) scale(1.27,1)" font-family="Liberation Sans, sans-serif" font-weight="bold" font-size="13.4px" text-anchor="end" >0</text>
<text transform="translate(52.6,559.5) scale(1.27,1)" font-family="Liberation Sans, sans-serif" font-weight="bold" font-size="13.4px" text-anchor="end" >0.1</text>
<text transform="translate(60.8,679.75) scale(1.27,1)" font-family="Liberation Sans, sans-serif" font-weight="bold" font-size="13.4px" text-anchor="middle" >0</text>
<text transform="translate(165.64,679.75) scale(1.27,1)" font-family="Liberation Sans, sans-serif" font-weight="bold" font-size="13.4px" text-anchor="middle" >20</text>
<text transform="translate(100.4,544.2) scale(1.235,1)" font-family="Liberation Sans, sans-serif" font-weight="bold" font-size="15.4px" text-anchor="start" >Im</text>
<text transform="translate(128.2,544.2) scale(1.2950000000000002,1)" font-family="Liberation Sans, sans-serif" font-weight="bold" font-size="15.4px" text-anchor="start" >r</text>
<text transform="translate(135.9,533.7) scale(1.21,1)" font-family="Liberation Sans, sans-serif" font-weight="bold" font-size="10.8px" text-anchor="start" >2</text>
<text transform="translate(135.9,549.4) scale(1.09,1)" font-family="Liberation Sans, sans-serif" font-weight="bold" font-size="10.8px" text-anchor="start" >1-1</text>
</g>
<g id="p9">
<clipPath id="c9"><rect x="252.8" y="554.7" width="131.3" height="108.75"/></clipPath>
<g clip-path="url(#c9)">
<path d="M253.8,645.5 H384.1" stroke="#000" stroke-width="1.55" stroke-dasharray="1.55 2.7" fill="none"/>
<path d="M270.5,635.4 L340.2,635.1" stroke="#000" stroke-width="1.8" fill="none" stroke-linejoin="round"/>
<path d="M278.5,637 L335.2,637.5" stroke="#ff0000" stroke-width="1.6" fill="none" stroke-dasharray="4.2 3.4" stroke-linejoin="round"/>
<path d="M270.5,627.9 V644.7" stroke="#000" stroke-width="1.8" fill="none"/>
<path d="M265.5,629.5 H275.5" stroke="#000" stroke-width="1.8" fill="none"/>
<path d="M265.5,642 H275.5" stroke="#000" stroke-width="1.8" fill="none"/>
<path d="M270.5,631.95 L275.7,639.85 L265.3,639.85 Z" fill="#000"/>
<path d="M287.2,621.9 V639.9" stroke="#000" stroke-width="1.8" fill="none"/>
<path d="M282.2,623.5 H292.2" stroke="#000" stroke-width="1.8" fill="none"/>
<path d="M282.2,637.5 H292.2" stroke="#000" stroke-width="1.8" fill="none"/>
<path d="M287.2,627.95 L292.4,635.85 L282,635.85 Z" fill="#000"/>
<path d="M335.2,612.6 V635.1" stroke="#000" stroke-width="1.8" fill="none"/>
<path d="M330.2,615 H340.2" stroke="#000" stroke-width="1.8" fill="none"/>
<path d="M330.2,635.1 H340.2" stroke="#000" stroke-width="1.8" fill="none"/>
<path d="M335.2,621.15 L340.4,629.05 L330,629.05 Z" fill="#000"/>
</g>
<path d="M252.8,654.39 h6.2 M384.1,654.39 h-6.2 M252.8,645.33 h12.0 M384.1,645.33 h-12.0 M252.8,636.26 h6.2 M384.1,636.26 h-6.2 M252.8,627.2 h6.2 M384.1,627.2 h-6.2 M252.8,618.14 h6.2 M384.1,618.14 h-6.2 M252.8,609.08 h12.0 M384.1,609.08 h-12.0 M252.8,600.01 h6.2 M384.1,600.01 h-6.2 M252.8,590.95 h6.2 M384.1,590.95 h-6.2 M252.8,581.89 h6.2 M384.1,581.89 h-6.2 M252.8,572.83 h12.0 M384.1,572.83 h-12.0 M252.8,563.76 h6.2 M384.1,563.76 h-6.2 M279.06,554.7 v4.8 M279.06,663.45 v-4.8 M305.32,554.7 v4.8 M305.32,663.45 v-4.8 M331.58,554.7 v4.8 M331.58,663.45 v-4.8 M357.84,554.7 v9.6 M357.84,663.45 v-9.6" stroke="#222" stroke-width="0.62" fill="none"/>
<rect x="252.8" y="554.7" width="131.3" height="108.75" fill="none" stroke="#000" stroke-width="2"/>
<text transform="translate(244.6,650.12) scale(1.27,1)" font-family="Liberation Sans, sans-serif" font-weight="bold" font-size="13.4px" text-anchor="end" >0</text>
<text transform="translate(244.6,613.88) scale(1.27,1)" font-family="Liberation Sans, sans-serif" font-weight="bold" font-size="13.4px" text-anchor="end" >0.2</text>
<text transform="translate(244.6,577.62) scale(1.27,1)" font-family="Liberation Sans, sans-serif" font-weight="bold" font-size="13.4px" text-anchor="end" >0.4</text>
<text transform="translate(252.8,679.75) scale(1.27,1)" font-family="Liberation Sans, sans-serif" font-weight="bold" font-size="13.4px" text-anchor="middle" >0</text>
<text transform="translate(357.64,679.75) scale(1.27,1)" font-family="Liberation Sans, sans-serif" font-weight="bold" font-size="13.4px" text-anchor="middle" >20</text>
<text transform="translate(305.2,544.2) scale(1.2950000000000002,1)" font-family="Liberation Sans, sans-serif" font-weight="bold" font-size="15.4px" text-anchor="start" >r</text>
<text transform="translate(312.9,533.7) scale(1.21,1)" font-family="Liberation Sans, sans-serif" font-weight="bold" font-size="10.8px" text-anchor="start" >5</text>
<text transform="translate(312.9,549.4) scale(1.21,1)" font-family="Liberation Sans, sans-serif" font-weight="bold" font-size="10.8px" text-anchor="start" >00</text>
</g>
<g id="p10">
<clipPath id="c10"><rect x="444.75" y="554.7" width="131.3" height="108.75"/></clipPath>
<g clip-path="url(#c10)">
<path d="M445.75,609.1 H576.05" stroke="#000" stroke-width="1.55" stroke-dasharray="1.55 2.7" fill="none"/>
<path d="M462.45,608.1 L527.15,608.6" stroke="#000" stroke-width="1.8" fill="none" stroke-linejoin="round"/>
<path d="M462.45,608.1 L527.15,608.6" stroke="#ff0000" stroke-width="1.6" fill="none" stroke-dasharray="4.2 3.4" stroke-linejoin="round"/>
<path d="M462.45,597 V617" stroke="#000" stroke-width="1.8" fill="none"/>
<path d="M457.45,598.2 H467.45" stroke="#000" stroke-width="1.8" fill="none"/>
<path d="M457.45,616.1 H467.45" stroke="#000" stroke-width="1.8" fill="none"/>
<path d="M462.45,603.85 L467.65,611.75 L457.25,611.75 Z" fill="#000"/>
<path d="M479.15,593.7 V613.4" stroke="#000" stroke-width="1.8" fill="none"/>
<path d="M474.15,593.7 H484.15" stroke="#000" stroke-width="1.8" fill="none"/>
<path d="M474.15,613.4 H484.15" stroke="#000" stroke-width="1.8" fill="none"/>
<path d="M479.15,600.65 L484.35,608.55 L473.95,608.55 Z" fill="#000"/>
<path d="M527.15,599.4 V626.3" stroke="#000" stroke-width="1.8" fill="none"/>
<path d="M522.15,599.4 H532.15" stroke="#000" stroke-width="1.8" fill="none"/>
<path d="M522.15,626.3 H532.15" stroke="#000" stroke-width="1.8" fill="none"/>
<path d="M527.15,608.95 L532.35,616.85 L521.95,616.85 Z" fill="#000"/>
</g>
<path d="M444.75,659.83 h6.2 M576.05,659.83 h-6.2 M444.75,652.58 h6.2 M576.05,652.58 h-6.2 M444.75,645.33 h12.0 M576.05,645.33 h-12.0 M444.75,638.08 h6.2 M576.05,638.08 h-6.2 M444.75,630.83 h6.2 M576.05,630.83 h-6.2 M444.75,623.58 h6.2 M576.05,623.58 h-6.2 M444.75,616.33 h6.2 M576.05,616.33 h-6.2 M444.75,609.08 h12.0 M576.05,609.08 h-12.0 M444.75,601.83 h6.2 M576.05,601.83 h-6.2 M444.75,594.58 h6.2 M576.05,594.58 h-6.2 M444.75,587.33 h6.2 M576.05,587.33 h-6.2 M444.75,580.08 h6.2 M576.05,580.08 h-6.2 M444.75,572.83 h12.0 M576.05,572.83 h-12.0 M444.75,565.58 h6.2 M576.05,565.58 h-6.2 M444.75,558.33 h6.2 M576.05,558.33 h-6.2 M471.01,554.7 v4.8 M471.01,663.45 v-4.8 M497.27,554.7 v4.8 M497.27,663.45 v-4.8 M523.53,554.7 v4.8 M523.53,663.45 v-4.8 M549.79,554.7 v9.6 M549.79,663.45 v-9.6" stroke="#222" stroke-width="0.62" fill="none"/>
<rect x="444.75" y="554.7" width="131.3" height="108.75" fill="none" stroke="#000" stroke-width="2"/>
<text transform="translate(436.55,650.12) scale(1.27,1)" font-family="Liberation Sans, sans-serif" font-weight="bold" font-size="13.4px" text-anchor="end" >-0.1</text>
<text transform="translate(436.55,613.88) scale(1.27,1)" font-family="Liberation Sans, sans-serif" font-weight="bold" font-size="13.4px" text-anchor="end" >0</text>
<text transform="translate(436.55,577.62) scale(1.27,1)" font-family="Liberation Sans, sans-serif" font-weight="bold" font-size="13.4px" text-anchor="end" >0.1</text>
<text transform="translate(444.75,679.75) scale(1.27,1)" font-family="Liberation Sans, sans-serif" font-weight="bold" font-size="13.4px" text-anchor="middle" >0</text>
<text transform="translate(549.59,679.75) scale(1.27,1)" font-family="Liberation Sans, sans-serif" font-weight="bold" font-size="13.4px" text-anchor="middle" >20</text>
<text transform="translate(497.15,544.2) scale(1.2950000000000002,1)" font-family="Liberation Sans, sans-serif" font-weight="bold" font-size="15.4px" text-anchor="start" >r</text>
<text transform="translate(504.85,533.7) scale(1.21,1)" font-family="Liberation Sans, sans-serif" font-weight="bold" font-size="10.8px" text-anchor="start" >5</text>
<text transform="translate(504.85,549.4) scale(1.21,1)" font-family="Liberation Sans, sans-serif" font-weight="bold" font-size="10.8px" text-anchor="start" >11</text>
</g>
<g id="p11">
<clipPath id="c11"><rect x="636.8" y="554.7" width="131.3" height="108.75"/></clipPath>
<g clip-path="url(#c11)">
<path d="M652.1,594.1 L696.2,603 L736.7,608.6 L736.7,620.3 L696.2,612.6 L652.1,601 Z" fill="#cbe5cc"/>
<path d="M654.5,591.4 L719.2,612.6" stroke="#000" stroke-width="1.8" fill="none" stroke-linejoin="round"/>
<path d="M654.5,596.2 L716.3,625.5" stroke="#ff0000" stroke-width="1.6" fill="none" stroke-dasharray="4.2 3.4" stroke-linejoin="round"/>
<path d="M654.5,564.3 V578" stroke="#000" stroke-width="1.8" fill="none"/>
<path d="M649.5,565.3 H659.5" stroke="#000" stroke-width="1.8" fill="none"/>
<path d="M649.5,574.9 H659.5" stroke="#000" stroke-width="1.8" fill="none"/>
<path d="M649.5,577 H659.5" stroke="#000" stroke-width="1.8" fill="none"/>
<path d="M654.5,567.25 L659.7,575.15 L649.3,575.15 Z" fill="#000"/>
<path d="M671.2,609.1 V621.6" stroke="#000" stroke-width="1.8" fill="none"/>
<path d="M666.2,609.1 H676.2" stroke="#000" stroke-width="1.8" fill="none"/>
<path d="M666.2,619.4 H676.2" stroke="#000" stroke-width="1.8" fill="none"/>
<path d="M666.2,621.7 H676.2" stroke="#000" stroke-width="1.8" fill="none"/>
<path d="M671.2,611.85 L676.4,619.75 L666,619.75 Z" fill="#000"/>
<path d="M719.2,632.2 V650.3" stroke="#000" stroke-width="1.8" fill="none"/>
<path d="M714.2,632.2 H724.2" stroke="#000" stroke-width="1.8" fill="none"/>
<path d="M714.2,650.3 H724.2" stroke="#000" stroke-width="1.8" fill="none"/>
<path d="M719.2,638.35 L724.4,646.25 L714,646.25 Z" fill="#000"/>
</g>
<path d="M636.8,658.01 h6.2 M768.1,658.01 h-6.2 M636.8,652.58 h6.2 M768.1,652.58 h-6.2 M636.8,647.14 h6.2 M768.1,647.14 h-6.2 M636.8,641.7 h6.2 M768.1,641.7 h-6.2 M636.8,636.26 h12.0 M768.1,636.26 h-12.0 M636.8,630.83 h6.2 M768.1,630.83 h-6.2 M636.8,625.39 h6.2 M768.1,625.39 h-6.2 M636.8,619.95 h6.2 M768.1,619.95 h-6.2 M636.8,614.51 h6.2 M768.1,614.51 h-6.2 M636.8,609.08 h12.0 M768.1,609.08 h-12.0 M636.8,603.64 h6.2 M768.1,603.64 h-6.2 M636.8,598.2 h6.2 M768.1,598.2 h-6.2 M636.8,592.76 h6.2 M768.1,592.76 h-6.2 M636.8,587.33 h6.2 M768.1,587.33 h-6.2 M636.8,581.89 h12.0 M768.1,581.89 h-12.0 M636.8,576.45 h6.2 M768.1,576.45 h-6.2 M636.8,571.01 h6.2 M768.1,571.01 h-6.2 M636.8,565.58 h6.2 M768.1,565.58 h-6.2 M636.8,560.14 h6.2 M768.1,560.14 h-6.2 M663.06,554.7 v4.8 M663.06,663.45 v-4.8 M689.32,554.7 v4.8 M689.32,663.45 v-4.8 M715.58,554.7 v4.8 M715.58,663.45 v-4.8 M741.84,554.7 v9.6 M741.84,663.45 v-9.6" stroke="#222" stroke-width="0.62" fill="none"/>
<rect x="636.8" y="554.7" width="131.3" height="108.75" fill="none" stroke="#000" stroke-width="2"/>
<text transform="translate(628.6,668.25) scale(1.27,1)" font-family="Liberation Sans, sans-serif" font-weight="bold" font-size="13.4px" text-anchor="end" >0.05</text>
<text transform="translate(628.6,641.06) scale(1.27,1)" font-family="Liberation Sans, sans-serif" font-weight="bold" font-size="13.4px" text-anchor="end" >0.1</text>
<text transform="translate(628.6,613.88) scale(1.27,1)" font-family="Liberation Sans, sans-serif" font-weight="bold" font-size="13.4px" text-anchor="end" >0.15</text>
<text transform="translate(628.6,586.69) scale(1.27,1)" font-family="Liberation Sans, sans-serif" font-weight="bold" font-size="13.4px" text-anchor="end" >0.2</text>
<text transform="translate(628.6,559.5) scale(1.27,1)" font-family="Liberation Sans, sans-serif" font-weight="bold" font-size="13.4px" text-anchor="end" >0.25</text>
<text transform="translate(636.8,679.75) scale(1.27,1)" font-family="Liberation Sans, sans-serif" font-weight="bold" font-size="13.4px" text-anchor="middle" >0</text>
<text transform="translate(741.64,679.75) scale(1.27,1)" font-family="Liberation Sans, sans-serif" font-weight="bold" font-size="13.4px" text-anchor="middle" >20</text>
<text transform="translate(689.5,544.2) scale(1.235,1)" font-family="Liberation Sans, sans-serif" font-weight="bold" font-size="15.4px" text-anchor="start" >Re</text>
<text transform="translate(719,544.2) scale(1.2950000000000002,1)" font-family="Liberation Sans, sans-serif" font-weight="bold" font-size="15.4px" text-anchor="start" >r</text>
<text transform="translate(726.7,533.7) scale(1.21,1)" font-family="Liberation Sans, sans-serif" font-weight="bold" font-size="10.8px" text-anchor="start" >5</text>
<text transform="translate(726.7,549.4) scale(1.21,1)" font-family="Liberation Sans, sans-serif" font-weight="bold" font-size="10.8px" text-anchor="start" >10</text>
</g>
<g id="p12">
<clipPath id="c12"><rect x="60.8" y="716.7" width="131.3" height="108.3"/></clipPath>
<g clip-path="url(#c12)">
<path d="M61.8,770.9 H192.1" stroke="#000" stroke-width="1.55" stroke-dasharray="1.55 2.7" fill="none"/>
<path d="M78.5,772.2 L95.2,771.8 L143.2,771.1" stroke="#000" stroke-width="1.8" fill="none" stroke-linejoin="round"/>
<path d="M78.5,772 L95.2,771.6 L143.2,770.9" stroke="#ff0000" stroke-width="1.6" fill="none" stroke-dasharray="4.2 3.4" stroke-linejoin="round"/>
<path d="M78.5,767.9 V784.6" stroke="#000" stroke-width="1.8" fill="none"/>
<path d="M73.5,767.9 H83.5" stroke="#000" stroke-width="1.8" fill="none"/>
<path d="M73.5,784.6 H83.5" stroke="#000" stroke-width="1.8" fill="none"/>
<path d="M78.5,773.05 L83.7,780.95 L73.3,780.95 Z" fill="#000"/>
<path d="M95.2,763.7 V779.4" stroke="#000" stroke-width="1.8" fill="none"/>
<path d="M90.2,763.7 H100.2" stroke="#000" stroke-width="1.8" fill="none"/>
<path d="M90.2,779.4 H100.2" stroke="#000" stroke-width="1.8" fill="none"/>
<path d="M95.2,768.25 L100.4,776.15 L90,776.15 Z" fill="#000"/>
<path d="M143.2,716.7 V763.7" stroke="#000" stroke-width="1.8" fill="none"/>
<path d="M138.2,741.2 H148.2" stroke="#000" stroke-width="1.8" fill="none"/>
<path d="M138.2,762.1 H148.2" stroke="#000" stroke-width="1.8" fill="none"/>
<path d="M143.2,748.15 L148.4,756.05 L138,756.05 Z" fill="#000"/>
</g>
<path d="M60.8,819.59 h6.2 M192.1,819.59 h-6.2 M60.8,814.17 h6.2 M192.1,814.17 h-6.2 M60.8,808.75 h6.2 M192.1,808.75 h-6.2 M60.8,803.34 h6.2 M192.1,803.34 h-6.2 M60.8,797.93 h12.0 M192.1,797.93 h-12.0 M60.8,792.51 h6.2 M192.1,792.51 h-6.2 M60.8,787.1 h6.2 M192.1,787.1 h-6.2 M60.8,781.68 h6.2 M192.1,781.68 h-6.2 M60.8,776.26 h6.2 M192.1,776.26 h-6.2 M60.8,770.85 h12.0 M192.1,770.85 h-12.0 M60.8,765.44 h6.2 M192.1,765.44 h-6.2 M60.8,760.02 h6.2 M192.1,760.02 h-6.2 M60.8,754.61 h6.2 M192.1,754.61 h-6.2 M60.8,749.19 h6.2 M192.1,749.19 h-6.2 M60.8,743.78 h12.0 M192.1,743.78 h-12.0 M60.8,738.36 h6.2 M192.1,738.36 h-6.2 M60.8,732.95 h6.2 M192.1,732.95 h-6.2 M60.8,727.53 h6.2 M192.1,727.53 h-6.2 M60.8,722.12 h6.2 M192.1,722.12 h-6.2 M87.06,716.7 v4.8 M87.06,825 v-4.8 M113.32,716.7 v4.8 M113.32,825 v-4.8 M139.58,716.7 v4.8 M139.58,825 v-4.8 M165.84,716.7 v9.6 M165.84,825 v-9.6" stroke="#222" stroke-width="0.62" fill="none"/>
<rect x="60.8" y="716.7" width="131.3" height="108.3" fill="none" stroke="#000" stroke-width="2"/>
<text transform="translate(52.6,829.8) scale(1.27,1)" font-family="Liberation Sans, sans-serif" font-weight="bold" font-size="13.4px" text-anchor="end" >-0.1</text>
<text transform="translate(52.6,802.73) scale(1.27,1)" font-family="Liberation Sans, sans-serif" font-weight="bold" font-size="13.4px" text-anchor="end" >-0.05</text>
<text transform="translate(52.6,775.65) scale(1.27,1)" font-family="Liberation Sans, sans-serif" font-weight="bold" font-size="13.4px" text-anchor="end" >0</text>
<text transform="translate(52.6,748.58) scale(1.27,1)" font-family="Liberation Sans, sans-serif" font-weight="bold" font-size="13.4px" text-anchor="end" >0.05</text>
<text transform="translate(52.6,721.5) scale(1.27,1)" font-family="Liberation Sans, sans-serif" font-weight="bold" font-size="13.4px" text-anchor="end" >0.1</text>
<text transform="translate(60.8,841.3) scale(1.27,1)" font-family="Liberation Sans, sans-serif" font-weight="bold" font-size="13.4px" text-anchor="middle" >0</text>
<text transform="translate(165.64,841.3) scale(1.27,1)" font-family="Liberation Sans, sans-serif" font-weight="bold" font-size="13.4px" text-anchor="middle" >20</text>
<text transform="translate(113.2,706.2) scale(1.2950000000000002,1)" font-family="Liberation Sans, sans-serif" font-weight="bold" font-size="15.4px" text-anchor="start" >r</text>
<text transform="translate(120.9,695.7) scale(1.21,1)" font-family="Liberation Sans, sans-serif" font-weight="bold" font-size="10.8px" text-anchor="start" >5</text>
<text transform="translate(120.9,711.4) scale(1.09,1)" font-family="Liberation Sans, sans-serif" font-weight="bold" font-size="10.8px" text-anchor="start" >1-1</text>
</g>
<g id="p13">
<clipPath id="c13"><rect x="252.8" y="716.7" width="131.3" height="108.3"/></clipPath>
<g clip-path="url(#c13)">
<path d="M268.1,800.3 L352.7,773.8 L352.7,789.9 L268.1,808.3 Z" fill="#cbe5cc"/>
<path d="M270.5,802.7 L335.2,779.1" stroke="#000" stroke-width="1.8" fill="none" stroke-linejoin="round"/>
<path d="M270.5,797.9 L287.2,787.9 L335.2,762.6" stroke="#ff0000" stroke-width="1.6" fill="none" stroke-dasharray="4.2 3.4" stroke-linejoin="round"/>
<path d="M270.5,778.6 V793.9" stroke="#000" stroke-width="1.8" fill="none"/>
<path d="M265.5,778.6 H275.5" stroke="#000" stroke-width="1.8" fill="none"/>
<path d="M265.5,793.9 H275.5" stroke="#000" stroke-width="1.8" fill="none"/>
<path d="M270.5,782.75 L275.7,790.65 L265.3,790.65 Z" fill="#000"/>
<path d="M287.2,797.5 V815" stroke="#000" stroke-width="1.8" fill="none"/>
<path d="M282.2,797.5 H292.2" stroke="#000" stroke-width="1.8" fill="none"/>
<path d="M282.2,815 H292.2" stroke="#000" stroke-width="1.8" fill="none"/>
<path d="M287.2,802.85 L292.4,810.75 L282,810.75 Z" fill="#000"/>
<path d="M335.2,756.6 V779.1" stroke="#000" stroke-width="1.8" fill="none"/>
<path d="M330.2,756.6 H340.2" stroke="#000" stroke-width="1.8" fill="none"/>
<path d="M330.2,779.1 H340.2" stroke="#000" stroke-width="1.8" fill="none"/>
<path d="M335.2,764.25 L340.4,772.15 L330,772.15 Z" fill="#000"/>
</g>
<path d="M252.8,817.78 h6.2 M384.1,817.78 h-6.2 M252.8,810.56 h6.2 M384.1,810.56 h-6.2 M252.8,803.34 h6.2 M384.1,803.34 h-6.2 M252.8,796.12 h6.2 M384.1,796.12 h-6.2 M252.8,788.9 h12.0 M384.1,788.9 h-12.0 M252.8,781.68 h6.2 M384.1,781.68 h-6.2 M252.8,774.46 h6.2 M384.1,774.46 h-6.2 M252.8,767.24 h6.2 M384.1,767.24 h-6.2 M252.8,760.02 h6.2 M384.1,760.02 h-6.2 M252.8,752.8 h12.0 M384.1,752.8 h-12.0 M252.8,745.58 h6.2 M384.1,745.58 h-6.2 M252.8,738.36 h6.2 M384.1,738.36 h-6.2 M252.8,731.14 h6.2 M384.1,731.14 h-6.2 M252.8,723.92 h6.2 M384.1,723.92 h-6.2 M279.06,716.7 v4.8 M279.06,825 v-4.8 M305.32,716.7 v4.8 M305.32,825 v-4.8 M331.58,716.7 v4.8 M331.58,825 v-4.8 M357.84,716.7 v9.6 M357.84,825 v-9.6" stroke="#222" stroke-width="0.62" fill="none"/>
<rect x="252.8" y="716.7" width="131.3" height="108.3" fill="none" stroke="#000" stroke-width="2"/>
<text transform="translate(244.6,829.8) scale(1.27,1)" font-family="Liberation Sans, sans-serif" font-weight="bold" font-size="13.4px" text-anchor="end" >-0.2</text>
<text transform="translate(244.6,793.7) scale(1.27,1)" font-family="Liberation Sans, sans-serif" font-weight="bold" font-size="13.4px" text-anchor="end" >-0.15</text>
<text transform="translate(244.6,757.6) scale(1.27,1)" font-family="Liberation Sans, sans-serif" font-weight="bold" font-size="13.4px" text-anchor="end" >-0.1</text>
<text transform="translate(244.6,721.5) scale(1.27,1)" font-family="Liberation Sans, sans-serif" font-weight="bold" font-size="13.4px" text-anchor="end" >-0.05</text>
<text transform="translate(252.8,841.3) scale(1.27,1)" font-family="Liberation Sans, sans-serif" font-weight="bold" font-size="13.4px" text-anchor="middle" >0</text>
<text transform="translate(357.64,841.3) scale(1.27,1)" font-family="Liberation Sans, sans-serif" font-weight="bold" font-size="13.4px" text-anchor="middle" >20</text>
<text transform="translate(292.4,706.2) scale(1.235,1)" font-family="Liberation Sans, sans-serif" font-weight="bold" font-size="15.4px" text-anchor="start" >Im</text>
<text transform="translate(320.2,706.2) scale(1.2950000000000002,1)" font-family="Liberation Sans, sans-serif" font-weight="bold" font-size="15.4px" text-anchor="start" >r</text>
<text transform="translate(327.9,695.7) scale(1.21,1)" font-family="Liberation Sans, sans-serif" font-weight="bold" font-size="10.8px" text-anchor="start" >6</text>
<text transform="translate(327.9,711.4) scale(1.21,1)" font-family="Liberation Sans, sans-serif" font-weight="bold" font-size="10.8px" text-anchor="start" >10</text>
</g>
<g id="p14">
<clipPath id="c14"><rect x="444.75" y="716.7" width="131.3" height="108.3"/></clipPath>
<g clip-path="url(#c14)">
<path d="M445.75,770.9 H576.05" stroke="#000" stroke-width="1.55" stroke-dasharray="1.55 2.7" fill="none"/>
<path d="M462.45,768.2 L527.15,769.3" stroke="#000" stroke-width="1.8" fill="none" stroke-linejoin="round"/>
<path d="M462.45,769.5 L527.15,770.3" stroke="#ff0000" stroke-width="1.6" fill="none" stroke-dasharray="4.2 3.4" stroke-linejoin="round"/>
<path d="M462.45,790.7 V813" stroke="#000" stroke-width="1.8" fill="none"/>
<path d="M457.45,790.7 H467.45" stroke="#000" stroke-width="1.8" fill="none"/>
<path d="M457.45,811.5 H467.45" stroke="#000" stroke-width="1.8" fill="none"/>
<path d="M462.45,797.95 L467.65,805.85 L457.25,805.85 Z" fill="#000"/>
<path d="M479.15,755.3 V777" stroke="#000" stroke-width="1.8" fill="none"/>
<path d="M474.15,755.3 H484.15" stroke="#000" stroke-width="1.8" fill="none"/>
<path d="M474.15,777 H484.15" stroke="#000" stroke-width="1.8" fill="none"/>
<path d="M479.15,762.65 L484.35,770.55 L473.95,770.55 Z" fill="#000"/>
<path d="M527.15,759.7 V785.8" stroke="#000" stroke-width="1.8" fill="none"/>
<path d="M522.15,759.7 H532.15" stroke="#000" stroke-width="1.8" fill="none"/>
<path d="M522.15,785.8 H532.15" stroke="#000" stroke-width="1.8" fill="none"/>
<path d="M527.15,769.05 L532.35,776.95 L521.95,776.95 Z" fill="#000"/>
</g>
<path d="M444.75,817.26 h6.2 M576.05,817.26 h-6.2 M444.75,809.53 h12.0 M576.05,809.53 h-12.0 M444.75,801.79 h6.2 M576.05,801.79 h-6.2 M444.75,794.06 h6.2 M576.05,794.06 h-6.2 M444.75,786.32 h6.2 M576.05,786.32 h-6.2 M444.75,778.59 h6.2 M576.05,778.59 h-6.2 M444.75,770.85 h12.0 M576.05,770.85 h-12.0 M444.75,763.11 h6.2 M576.05,763.11 h-6.2 M444.75,755.38 h6.2 M576.05,755.38 h-6.2 M444.75,747.64 h6.2 M576.05,747.64 h-6.2 M444.75,739.91 h6.2 M576.05,739.91 h-6.2 M444.75,732.17 h12.0 M576.05,732.17 h-12.0 M444.75,724.44 h6.2 M576.05,724.44 h-6.2 M471.01,716.7 v4.8 M471.01,825 v-4.8 M497.27,716.7 v4.8 M497.27,825 v-4.8 M523.53,716.7 v4.8 M523.53,825 v-4.8 M549.79,716.7 v9.6 M549.79,825 v-9.6" stroke="#222" stroke-width="0.62" fill="none"/>
<rect x="444.75" y="716.7" width="131.3" height="108.3" fill="none" stroke="#000" stroke-width="2"/>
<text transform="translate(436.55,814.33) scale(1.27,1)" font-family="Liberation Sans, sans-serif" font-weight="bold" font-size="13.4px" text-anchor="end" >-0.05</text>
<text transform="translate(436.55,775.65) scale(1.27,1)" font-family="Liberation Sans, sans-serif" font-weight="bold" font-size="13.4px" text-anchor="end" >0</text>
<text transform="translate(436.55,736.97) scale(1.27,1)" font-family="Liberation Sans, sans-serif" font-weight="bold" font-size="13.4px" text-anchor="end" >0.05</text>
<text transform="translate(444.75,841.3) scale(1.27,1)" font-family="Liberation Sans, sans-serif" font-weight="bold" font-size="13.4px" text-anchor="middle" >0</text>
<text transform="translate(549.59,841.3) scale(1.27,1)" font-family="Liberation Sans, sans-serif" font-weight="bold" font-size="13.4px" text-anchor="middle" >20</text>
<text transform="translate(484.35,706.2) scale(1.235,1)" font-family="Liberation Sans, sans-serif" font-weight="bold" font-size="15.4px" text-anchor="start" >Im</text>
<text transform="translate(512.15,706.2) scale(1.2950000000000002,1)" font-family="Liberation Sans, sans-serif" font-weight="bold" font-size="15.4px" text-anchor="start" >r</text>
<text transform="translate(519.85,695.7) scale(1.21,1)" font-family="Liberation Sans, sans-serif" font-weight="bold" font-size="10.8px" text-anchor="start" >6</text>
<text transform="translate(519.85,711.4) scale(1.09,1)" font-family="Liberation Sans, sans-serif" font-weight="bold" font-size="10.8px" text-anchor="start" >1-1</text>
</g>
<text transform="translate(470.8,862.2) scale(1.33,1)" font-family="Liberation Sans, sans-serif" font-weight="bold" font-size="16.5px" text-anchor="start" >Q</text>
<text transform="translate(487.6,853.8) scale(1.37,1)" font-family="Liberation Sans, sans-serif" font-weight="bold" font-size="11.0px" text-anchor="start" >2</text>
<text transform="translate(509.6,862.2) scale(1.295,1)" font-family="Liberation Sans, sans-serif" font-weight="bold" font-size="16.5px" text-anchor="start" >[GeV</text>
<text transform="translate(560.6,853.8) scale(1.3,1)" font-family="Liberation Sans, sans-serif" font-weight="bold" font-size="11.0px" text-anchor="start" >2</text>
<text transform="translate(568.2,862.2) scale(1.33,1)" font-family="Liberation Sans, sans-serif" font-weight="bold" font-size="16.5px" text-anchor="start" >]</text>
<path fill-rule="evenodd" fill="#000" d="M605.8,720.35 a6.7,5.55 0 1,0 13.4,0 a6.7,5.55 0 1,0 -13.4,0 Z M608.55,720.35 a3.95,4.95 0 1,1 7.9,0 a3.95,4.95 0 1,1 -7.9,0 Z"/>
<rect x="611.85" y="711.4" width="1.25" height="19.1" fill="#000"/>
<text transform="translate(627.6,726.1) scale(1.272,1)" font-family="Liberation Sans, sans-serif" font-weight="bold" font-size="21.8px" text-anchor="start" >production</text>
<path d="M612.4,744.2 L618.4,753 L606.4,753 Z" fill="#000"/>
<text transform="translate(637.3,753.4) scale(1.235,1)" font-family="Liberation Sans, sans-serif" font-weight="bold" font-size="15.4px" text-anchor="start" >H1</text>
<path d="M612.6,767.9 L618.9,776.5 L606.3,776.5 Z" fill="none" stroke="#000" stroke-width="1.4" stroke-linejoin="miter"/>
<text transform="translate(637.3,777.3) scale(1.235,1)" font-family="Liberation Sans, sans-serif" font-weight="bold" font-size="15.4px" text-anchor="start" >ZEUS</text>
<path d="M607.2,795.3 H627" stroke="#000" stroke-width="1.4" stroke-dasharray="1.4 2.85" fill="none"/>
<text transform="translate(637.3,800.9) scale(1.235,1)" font-family="Liberation Sans, sans-serif" font-weight="bold" font-size="15.4px" text-anchor="start" >SCHC</text>
<rect x="605.1" y="813.2" width="21.8" height="11.8" fill="#cbe5cc"/>
<text transform="translate(637.3,824.4) scale(1.235,1)" font-family="Liberation Sans, sans-serif" font-weight="bold" font-size="15.4px" text-anchor="start" >GK</text>
<path d="M606.4,842.2 H626.6" stroke="#000" stroke-width="1.5" fill="none"/>
<text transform="translate(637.3,846.3) scale(1.235,1)" font-family="Liberation Sans, sans-serif" font-weight="bold" font-size="15.4px" text-anchor="start" >INS-C</text>
<path d="M704.8,842.2 H726.4" stroke="#ff0000" stroke-width="1.5" stroke-dasharray="4.4 3.6" fill="none"/>
<text transform="translate(736.6,846.3) scale(1.235,1)" font-family="Liberation Sans, sans-serif" font-weight="bold" font-size="15.4px" text-anchor="start" >INS-L</text>
</svg>
</div>
</body></html>
